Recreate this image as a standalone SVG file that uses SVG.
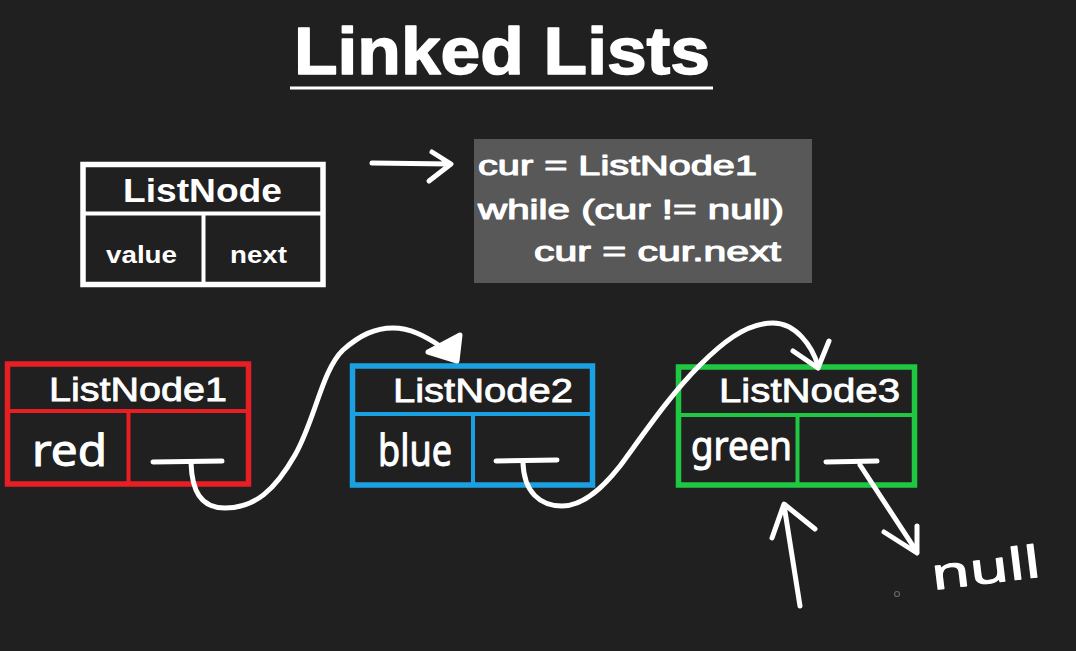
<svg xmlns="http://www.w3.org/2000/svg" width="1076" height="651" viewBox="0 0 1076 651">
<style>
.bg{fill:#202020}
.lbl{font-family:"Liberation Sans",Arial,sans-serif;fill:#ffffff}
.title{font-weight:bold;font-size:67px;stroke:#ffffff;stroke-width:1.5;stroke-linejoin:round}
.code{font-size:28px;stroke:#ffffff;stroke-width:1.1;stroke-linejoin:round}
.nt{font-size:34px;stroke:#ffffff;stroke-width:0.8}
.hand{font-family:"Noto Sans","DejaVu Sans",sans-serif;fill:#ffffff;stroke:#ffffff;stroke-width:1;stroke-linejoin:round}
.box{fill:none;stroke-width:5.5}
.div{fill:none;stroke-width:4}
.ink{fill:none;stroke:#ffffff;stroke-width:5;stroke-linecap:round;stroke-linejoin:round}
</style>
<rect class="bg" x="0" y="0" width="1076" height="651"/>

<g id="title">
<text class="lbl title" x="294" y="74" textLength="416" lengthAdjust="spacingAndGlyphs">Linked Lists</text>
<rect x="290" y="86.5" width="423" height="3" fill="#ffffff"/>
</g>

<g id="listnode-def">
<rect class="box" x="83" y="164.5" width="240" height="120" stroke="#ffffff"/>
<line class="div" x1="83" y1="213.5" x2="323" y2="213.5" stroke="#ffffff" stroke-width="5"/>
<line class="div" x1="203.5" y1="213.5" x2="203.5" y2="284.5" stroke="#ffffff" stroke-width="3.5"/>
<text class="lbl" x="123" y="202" font-size="33" font-weight="bold" textLength="159" lengthAdjust="spacingAndGlyphs">ListNode</text>
<text class="lbl" x="106" y="263" font-size="24" font-weight="bold" textLength="71" lengthAdjust="spacingAndGlyphs">value</text>
<text class="lbl" x="230" y="263" font-size="24" font-weight="bold" textLength="57" lengthAdjust="spacingAndGlyphs">next</text>
</g>

<g id="code">
<rect x="474" y="139" width="338" height="144" fill="#585858"/>
<text class="lbl code" x="478" y="175" textLength="279" lengthAdjust="spacingAndGlyphs">cur = ListNode1</text>
<text class="lbl code" x="478" y="219" textLength="306" lengthAdjust="spacingAndGlyphs">while (cur != null)</text>
<text class="lbl code" x="534" y="261" textLength="247" lengthAdjust="spacingAndGlyphs">cur = cur.next</text>
</g>

<g id="node1">
<rect class="box" x="7.5" y="364" width="241" height="120" stroke="#e81e25"/>
<line class="div" x1="7.5" y1="411" x2="248.5" y2="411" stroke="#e81e25" stroke-width="5.5"/>
<line class="div" x1="128.5" y1="411" x2="128.5" y2="484" stroke="#e81e25" stroke-width="4.5"/>
<text class="lbl nt" x="49" y="401" textLength="178" lengthAdjust="spacingAndGlyphs">ListNode1</text>
<text class="hand" x="32" y="466" font-size="44" textLength="75" lengthAdjust="spacingAndGlyphs">red</text>
</g>

<g id="node2">
<rect class="box" x="352.5" y="366" width="240" height="119" stroke="#1ba1e2"/>
<line class="div" x1="352.5" y1="414" x2="592.5" y2="414" stroke="#1ba1e2" stroke-width="5.5"/>
<line class="div" x1="473" y1="414" x2="473" y2="485" stroke="#1ba1e2" stroke-width="4.5"/>
<text class="lbl nt" x="393" y="402" textLength="180" lengthAdjust="spacingAndGlyphs">ListNode2</text>
<text class="hand" x="378" y="466" font-size="44" textLength="74" lengthAdjust="spacingAndGlyphs">blue</text>
</g>

<g id="node3">
<rect class="box" x="678.5" y="367" width="236" height="118" stroke="#1fc743"/>
<line class="div" x1="678.5" y1="415" x2="914.5" y2="415" stroke="#1fc743" stroke-width="5.5"/>
<line class="div" x1="797.5" y1="415" x2="797.5" y2="485" stroke="#1fc743" stroke-width="4.5"/>
<text class="lbl nt" x="719" y="402" textLength="181" lengthAdjust="spacingAndGlyphs">ListNode3</text>
<text class="hand" x="691" y="460" font-size="40" textLength="101" lengthAdjust="spacingAndGlyphs">green</text>
</g>

<g id="null-label">
<text class="hand" x="933" y="590" font-size="44" transform="rotate(-7 933 590)" textLength="110" lengthAdjust="spacingAndGlyphs">null</text>
<circle cx="897" cy="594" r="2.5" fill="none" stroke="#666666" stroke-width="1.2"/>
</g>

<g id="connectors">
<path class="ink" d="M372,163 L450,164 M432,152 L451,164 L429,181"/>
<path class="ink" d="M153,462 L222,461"/>
<path class="ink" d="M191,463 C192,490 200,508 225,508 C255,508 275,490 295,455 C315,420 322,370 343,350 C360,335 375,328 393,328 C410,328 425,336 440,346"/>
<path d="M428,352 L460,335 L457,361 Z" fill="#ffffff" stroke="#ffffff" stroke-width="5" stroke-linejoin="round"/>
<path class="ink" d="M496,461 L557,460"/>
<path class="ink" d="M523,463 C524,492 540,506 562,506 C585,506 605,485 620,466 C645,432 670,395 700,365 C720,345 745,323 773,323 C795,323 812,345 818,366"/>
<path class="ink" d="M793,351 L818,368 L829,341"/>
<path class="ink" d="M826,462 L877,461"/>
<path class="ink" d="M860,465 L917,552 M884,532 L917,553 L917,526"/>
<path class="ink" d="M800,606 L784,505 M772,538 L784,504 L815,529"/>
</g>
</svg>
